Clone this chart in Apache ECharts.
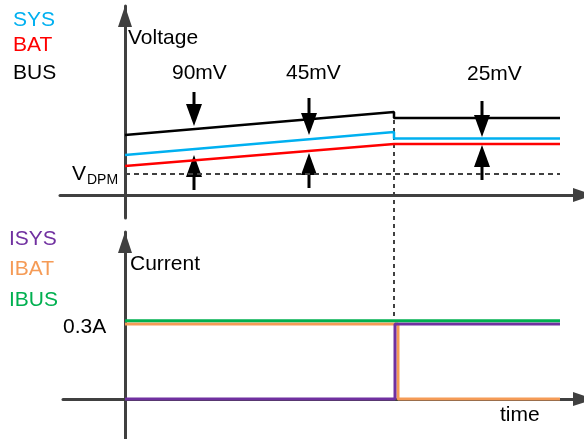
<!DOCTYPE html>
<html>
<head>
<meta charset="utf-8">
<script src="https://cdn.jsdelivr.net/npm/echarts@6/dist/echarts.min.js"></script>
<style>
  html, body { margin: 0; padding: 0; background: #fff; }
  #chart { width: 584px; height: 439px; }
</style>
</head>
<body>
<div id="chart"></div>
<script>
// ---- voltage panel (time and voltage in arbitrary schematic units) ----
const vTime = [0, 269, 269, 435];
const busV = [60, 83, 77, 77];
const sysV = [40, 63, 56.5, 56.5];
const batTime = [0, 269, 435];
const batV = [29, 51, 51];
const vdpmTime = [0, 435];
const vdpmV = [21, 21];
const stepTime = [269, 269];
const stepV = [83, -125];

// gap arrows: time, tail and tip of the down arrow and the up arrow
const arrowTime = [69, 184, 357];
const downFrom = [103, 97, 94];
const downTip = [69, 60, 58];
const upFrom = [5, 7, 15];
const upTip = [40, 42, 50];

// ---- current panel (A) ----
const ibusTime = [0, 435];
const ibusA = [0.3, 0.3];
const ibatTime = [0, 273, 273, 435];
const ibatA = [0.288, 0.288, 0, 0];
const isysTime = [0, 270, 270, 435];
const isysA = [0, 0, 0.288, 0.288];

const FONT = 'Liberation Sans, Arial, sans-serif';
const AXIS = '#404040';

const pairs = (xs, ys) => xs.map((x, i) => [x, ys[i]]);

let arrowData = [];
arrowTime.forEach((t, i) => {
    arrowData.push([t, downFrom[i], downTip[i]]);
    arrowData.push([t, upFrom[i], upTip[i]]);
});

const axisLineCfg = (size) => ({
    show: true,
    onZero: true,
    symbol: ['none', 'triangle'],
    symbolSize: size,
    symbolOffset: [0, -size[1] / 2],
    lineStyle: { color: AXIS, width: 3 }
});
const hidden = {
    axisTick: { show: false },
    axisLabel: { show: false },
    splitLine: { show: false }
};

function txt(text, x, y, color, size) {
    return {
        type: 'text', x: x, y: y, z: 100,
        style: {
            text: text, fill: color || '#000',
            font: (size || 21) + 'px ' + FONT,
            align: 'left', verticalAlign: 'middle'
        }
    };
}

const chart = echarts.init(document.getElementById('chart'));
const option = {
    animation: false,
    grid: [
        { left: 60, width: 534, top: 6, height: 212, outerBoundsMode: 'none', containLabel: false },
        { left: 63, width: 531, top: 232, height: 207, outerBoundsMode: 'none', containLabel: false }
    ],
    xAxis: [
        Object.assign({ type: 'value', gridIndex: 0, min: -65, max: 469, axisLine: axisLineCfg([14, 21]) }, hidden),
        Object.assign({ type: 'value', gridIndex: 1, min: -62, max: 469, axisLine: axisLineCfg([14, 21]) }, hidden)
    ],
    yAxis: [
        Object.assign({ type: 'value', gridIndex: 0, min: -23, max: 189, axisLine: axisLineCfg([14, 21]) }, hidden),
        Object.assign({ type: 'value', gridIndex: 1, min: -0.153, max: 0.64, axisLine: axisLineCfg([14, 21]) }, hidden)
    ],
    series: [
        {
            name: 'step', type: 'line', xAxisIndex: 0, yAxisIndex: 0, clip: false,
            symbol: 'none', data: pairs(stepTime, stepV),
            lineStyle: { color: AXIS, width: 2, type: [4, 4] }
        },
        {
            name: 'VDPM', type: 'line', xAxisIndex: 0, yAxisIndex: 0,
            symbol: 'none', data: pairs(vdpmTime, vdpmV),
            lineStyle: { color: AXIS, width: 2, type: [5, 4] }
        },
        {
            name: 'BAT', type: 'line', xAxisIndex: 0, yAxisIndex: 0,
            symbol: 'none', data: pairs(batTime, batV),
            lineStyle: { color: '#ff0000', width: 2.5 }
        },
        {
            name: 'SYS', type: 'line', xAxisIndex: 0, yAxisIndex: 0,
            symbol: 'none', data: pairs(vTime, sysV),
            lineStyle: { color: '#00b0f0', width: 2.5 }
        },
        {
            name: 'BUS', type: 'line', xAxisIndex: 0, yAxisIndex: 0,
            symbol: 'none', data: pairs(vTime, busV),
            lineStyle: { color: '#000', width: 2.5 }
        },
        {
            name: 'gap', type: 'custom', xAxisIndex: 0, yAxisIndex: 0,
            encode: { x: 0, y: [1, 2] },
            data: arrowData,
            renderItem: function (params, api) {
                const p0 = api.coord([api.value(0), api.value(1)]);
                const p1 = api.coord([api.value(0), api.value(2)]);
                const dir = p1[1] > p0[1] ? 1 : -1;
                const base = p1[1] - dir * 22;
                return {
                    type: 'group',
                    children: [
                        { type: 'line', shape: { x1: p0[0], y1: p0[1], x2: p1[0], y2: base },
                          style: { stroke: '#000', lineWidth: 3 } },
                        { type: 'polygon', shape: { points: [[p1[0], p1[1]], [p1[0] - 8, base], [p1[0] + 8, base]] },
                          style: { fill: '#000' } }
                    ]
                };
            }
        },
        {
            name: 'IBAT', type: 'line', xAxisIndex: 1, yAxisIndex: 1,
            symbol: 'none', data: pairs(ibatTime, ibatA),
            lineStyle: { color: '#f59b56', width: 3 }
        },
        {
            name: 'ISYS', type: 'line', xAxisIndex: 1, yAxisIndex: 1,
            symbol: 'none', data: pairs(isysTime, isysA),
            lineStyle: { color: '#7030a0', width: 3 }
        },
        {
            name: 'IBUS', type: 'line', xAxisIndex: 1, yAxisIndex: 1,
            symbol: 'none', data: pairs(ibusTime, ibusA),
            lineStyle: { color: '#00b050', width: 3 }
        }
    ],
    graphic: [
        txt('SYS', 13, 20.5, '#00b0f0'),
        txt('BAT', 13, 45, '#ff0000'),
        txt('BUS', 13, 73, '#000'),
        txt('Voltage', 128, 38),
        txt('90mV', 172, 73),
        txt('45mV', 286, 73),
        txt('25mV', 467, 74),
        txt('V', 72, 174.5),
        txt('DPM', 87, 180, '#000', 14),
        txt('ISYS', 9, 239.5, '#7030a0'),
        txt('IBAT', 9, 269.5, '#f59b56'),
        txt('IBUS', 9, 300.5, '#00b050'),
        txt('Current', 130, 264),
        txt('0.3A', 63, 327.5),
        txt('time', 500, 415)
    ]
};
chart.setOption(option);
</script>
</body>
</html>
